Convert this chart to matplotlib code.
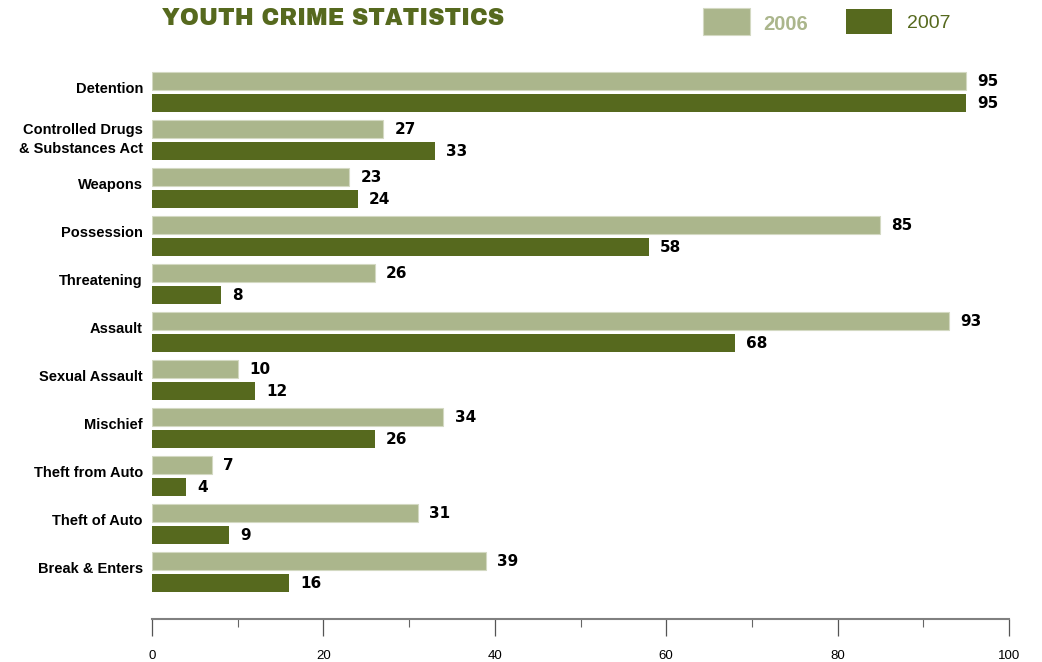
import numpy as np
import matplotlib.pyplot as plt
from matplotlib.patches import Rectangle
from matplotlib.ticker import MultipleLocator

categories = ['Detention', 'Controlled Drugs\n& Substances Act', 'Weapons', 'Possession',
              'Threatening', 'Assault', 'Sexual Assault', 'Mischief',
              'Theft from Auto', 'Theft of Auto', 'Break & Enters']
vals_2006 = [95, 27, 23, 85, 26, 93, 10, 34, 7, 31, 39]
vals_2007 = [95, 33, 24, 58, 8, 68, 12, 26, 4, 9, 16]

light = '#abb68c'
dark = '#56691e'
sans = ['Liberation Sans', 'DejaVu Sans']

W, H = 1042, 662
fig = plt.figure(figsize=(W / 100, H / 100), dpi=100)
ax = fig.add_axes([152 / W, 1 - 619 / H, (1009 - 152) / W, (619 - 62) / H])

y = np.arange(len(categories))
off = 11 / 48
bh = 18 / 48
ax.barh(y - off, vals_2006, height=bh, color=light, edgecolor='#d3d9c2', linewidth=0.8)
ax.barh(y + off, vals_2007, height=bh, color=dark, edgecolor='none')

# value labels at the bar ends
lab_font = dict(family='DejaVu Sans', weight='bold', size=11)
for yi, v in zip(y, vals_2006):
    ax.text(v + 1.3, yi - off, str(v), va='center', ha='left', **lab_font)
for yi, v in zip(y, vals_2007):
    ax.text(v + 1.3, yi + off, str(v), va='center', ha='left', **lab_font)

ax.set_xlim(0, 100)
ax.set_ylim(len(categories) - 1 + 0.979, -0.625)

ax.set_yticks(y - 0.1)
ax.set_yticklabels(categories, fontsize=10.5, fontweight='bold',
                   family=sans, linespacing=1.5)
ax.tick_params(axis='y', length=0, pad=6.5)

for s in ['top', 'right', 'left']:
    ax.spines[s].set_visible(False)
ax.spines['bottom'].set_color('#808080')
ax.spines['bottom'].set_linewidth(1.5)

ax.xaxis.set_major_locator(MultipleLocator(20))
ax.xaxis.set_minor_locator(MultipleLocator(10))
ax.tick_params(axis='x', which='major', direction='out', length=12.2, width=0.9,
               color='#555555', pad=10, labelsize=9.5)
ax.tick_params(axis='x', which='minor', direction='out', length=5.8, width=0.8,
               color='#666666')
for t in ax.get_xticklabels():
    t.set_family(sans)

# title and legend
fig.text(162 / W, 1 - 19 / H, 'YOUTH CRIME STATISTICS', ha='left', va='center',
         fontsize=16.5, fontweight='black', family=['Archivo Black', 'Archivo', 'DejaVu Sans'],
         color=dark)
fig.patches.append(Rectangle((703 / W, 1 - 35 / H), 47 / W, 27 / H,
                             transform=fig.transFigure, facecolor=light,
                             edgecolor='#d3d9c2', linewidth=0.8))
fig.text(763 / W, 1 - 24.5 / H, '2006', ha='left', va='center', fontsize=14.5,
         fontweight='bold', family=sans, color=light)
fig.patches.append(Rectangle((846 / W, 1 - 34 / H), 46 / W, 25 / H,
                             transform=fig.transFigure, facecolor=dark,
                             edgecolor='none'))
fig.text(907 / W, 1 - 23 / H, '2007', ha='left', va='center', fontsize=14,
         family=sans, color=dark)

fig.savefig('out.png', dpi=100)
